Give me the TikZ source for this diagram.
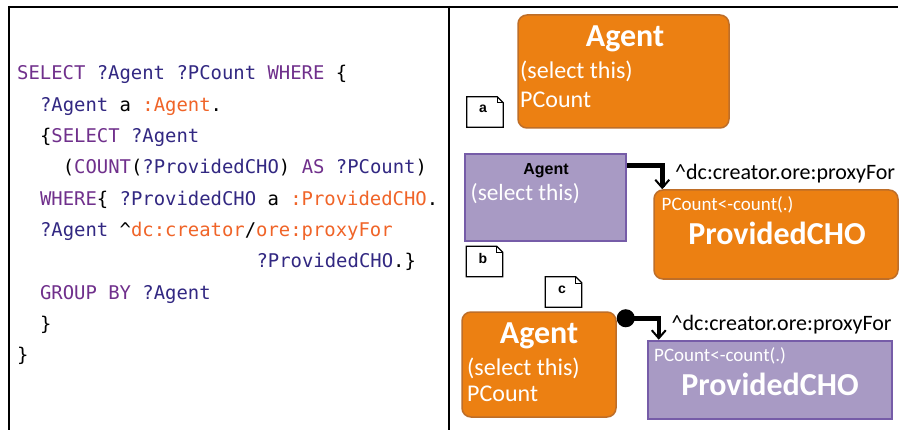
\documentclass[tikz,border=0pt]{standalone}
\usepackage{fontspec}
\setmainfont{Carlito}
\newfontfamily\codefont{DejaVu Sans Mono}
\newfontfamily\arialfont{Liberation Sans}
\usetikzlibrary{arrows.meta,calc}
\definecolor{kw}{RGB}{112,48,140}
\definecolor{vr}{RGB}{50,40,130}
\definecolor{orn}{RGB}{240,100,40}
\definecolor{boxor}{RGB}{236,128,18}
\definecolor{boxorb}{RGB}{190,110,40}
\definecolor{boxpu}{RGB}{168,154,196}
\definecolor{boxpub}{RGB}{118,92,168}
\newcommand{\CK}[1]{\textcolor{kw}{#1}}
\newcommand{\CV}[1]{\textcolor{vr}{#1}}
\newcommand{\CO}[1]{\textcolor{orn}{#1}}
\tikzset{
  codeline/.style={anchor=base west,inner sep=0pt,font=\codefont\fontsize{18.9}{20}\selectfont},
  orbox/.style={draw=boxorb,fill=boxor,line width=1.5pt,rounded corners=9pt,inner sep=0pt},
  pubox/.style={draw=boxpub,fill=boxpu,line width=2.5pt,inner sep=0pt},
  bigtitle/.style={anchor=base,inner sep=0pt,text=white,font=\bfseries\fontsize{32}{34}\selectfont},
  midtext/.style={anchor=base west,inner sep=0pt,text=white,font=\fontsize{24}{26}\selectfont},
  smalltext/.style={anchor=base west,inner sep=0pt,text=white,font=\fontsize{19}{21}\selectfont},
  rellabel/.style={anchor=base west,inner sep=0pt,text=black,font=\fontsize{22}{24}\selectfont},
  notebox/.style={inner sep=0pt,minimum width=36pt,minimum height=30pt,font=\arialfont\bfseries\fontsize{14}{15}\selectfont},
  link/.style={line width=4.5pt,-{Straight Barb[length=8pt,width=14pt,line width=2pt]}},
}
\newcommand{\notefold}[1]{%
  \draw[line width=1.2pt,fill=white] (#1.south west) -- (#1.north west) -- ($(#1.north east)+(-6,0)$) -- ($(#1.north east)+(0,6)$) -- (#1.south east) -- cycle;
  \draw[line width=0.6pt] ($(#1.north east)+(-6,0)$) -- ($(#1.north east)+(-6,6)$) -- ($(#1.north east)+(0,6)$);
}
\begin{document}
\begin{tikzpicture}[x=1pt,y=-1pt]
\useasboundingbox[fill=white] (0,0) rectangle (899,430);
% frame
\draw[line width=2.2pt] (8,7) -- (451,7);
\draw[line width=1.6pt] (451,7) -- (898,7);
\draw[line width=1.6pt] (9,6) -- (9,430);
\draw[line width=1.6pt] (449,6) -- (449,430);
% code
\node[codeline] (l1) at (17,80) {\CK{SELECT} \CV{?Agent} \CV{?PCount} \CK{WHERE} \{};
\node[codeline] (l2) at (39.8,111.3) {\CV{?Agent} a \CO{:Agent}.};
\node[codeline] (l3) at (39.8,142.6) {\{\CK{SELECT} \CV{?Agent}};
\node[codeline] (l4) at (62.6,173.9) {(\CK{COUNT}(\CV{?ProvidedCHO}) \CK{AS} \CV{?PCount})};
\node[codeline] (l5) at (39.8,205.2) {\CK{WHERE}\{ \CV{?ProvidedCHO} a \CO{:ProvidedCHO}.};
\node[codeline] (l6) at (39.8,236.5) {\CV{?Agent} \^{}\CO{dc:creator}/\CO{ore:proxyFor}};
\node[codeline] (l7) at (256.4,267.8) {\CV{?ProvidedCHO}.\}};
\node[codeline] (l8) at (39.8,299.1) {\CK{GROUP BY} \CV{?Agent}};
\node[codeline] (l9) at (39.8,330.4) {\}};
\node[codeline] (l10) at (17,361.7) {\}};
% (a)
\node[orbox,minimum width=211pt,minimum height=113pt] (boxa) at (623.5,71.5) {};
\node[bigtitle] (ta1) at (625,47) {Agent};
\node[midtext] (ta2) at (520,79) {(select this)};
\node[midtext] (ta3) at (520,108) {PCount};
\node[notebox] (na) at (485,112) {};
\notefold{na}
\node[notebox,anchor=center] (nat) at (483,109) {a};
% (b)
\node[pubox,minimum width=161pt,minimum height=87pt] (agentb) at (545.5,197.5) {};
\node[anchor=base,inner sep=0pt,font=\arialfont\bfseries\fontsize{16}{18}\selectfont] (tb1) at (546,175) {Agent};
\node[midtext,font=\fontsize{23.3}{25}\selectfont] (tb2) at (470.5,201) {(select this)};
\node[orbox,minimum width=244pt,minimum height=89pt] (provb) at (776,234.5) {};
\node[smalltext] (tb3) at (661.5,211) {PCount<-count(.)};
\node[bigtitle] (tb4) at (777,245) {ProvidedCHO};
\node[rellabel] (lb) at (675,180) {\^{}dc:creator.ore:proxyFor};
\draw[link] ($(agentb.north east)+(0,13)$) -| ($(provb.north west)+(9,0)$);
\node[notebox] (nb) at (484.5,261.5) {};
\notefold{nb}
\node[notebox,anchor=center] (nbt) at (483,258) {b};
% (c)
\node[notebox] (nc) at (563.5,292) {};
\notefold{nc}
\node[notebox,anchor=center] (nct) at (562,290) {c};
\node[orbox,minimum width=154pt,minimum height=105pt] (agentc) at (539,364.5) {};
\node[bigtitle] (tc1) at (539,343) {Agent};
\node[midtext] (tc2) at (467,375) {(select this)};
\node[midtext] (tc3) at (467,401.5) {PCount};
\node[pubox,minimum width=244pt,minimum height=78pt] (provc) at (770,380) {};
\node[smalltext] (tc4) at (654,361.5) {PCount<-count(.)};
\node[bigtitle] (tc5) at (770,395) {ProvidedCHO};
\node[rellabel] (lc) at (671.5,330) {\^{}dc:creator.ore:proxyFor};
\draw[link,{Circle[length=18pt]}-{Straight Barb[length=8pt,width=14pt,line width=2pt]}] ($(agentc.north east)+(0,7)$) -| ($(provc.north west)+(12,0)$);
\end{tikzpicture}
\end{document}
